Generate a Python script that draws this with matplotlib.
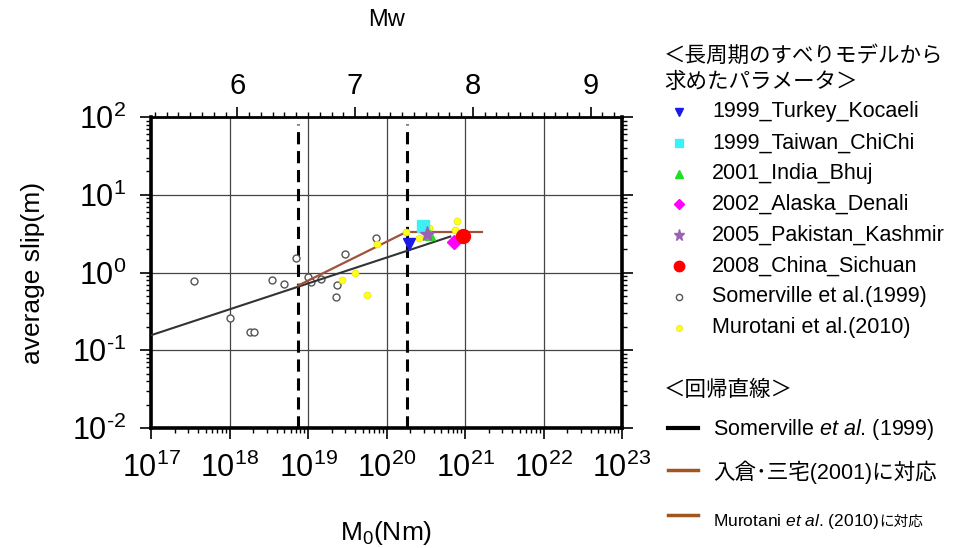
import numpy as np
import matplotlib
matplotlib.use("Agg")
import matplotlib.pyplot as plt
from matplotlib.ticker import FixedLocator, MultipleLocator, LogLocator, NullFormatter

plt.rcParams['font.family'] = ['Liberation Sans', 'Noto Sans CJK JP', 'DejaVu Sans']
plt.rcParams['mathtext.fontset'] = 'custom'
plt.rcParams['mathtext.rm'] = 'Liberation Sans'
plt.rcParams['mathtext.it'] = 'Liberation Sans:italic'
plt.rcParams['axes.unicode_minus'] = False

# ---- data ----
event_names = ['1999_Turkey_Kocaeli', '1999_Taiwan_ChiChi', '2001_India_Bhuj',
               '2002_Alaska_Denali', '2005_Pakistan_Kashmir', '2008_China_Sichuan']
event_m0 = [1.93e20, 2.88e20, 3.57e20, 7.2e20, 3.24e20, 9.3e20]
event_slip = [2.32, 3.92, 3.03, 2.49, 3.12, 2.97]

somerville_m0 = [3.5e17, 1.0e18, 1.8e18, 2.08e18, 3.47e18, 4.94e18, 6.97e18,
                 9.9e18, 1.1e19, 1.48e19, 2.37e19, 2.29e19, 2.97e19, 7.3e19]
somerville_slip = [0.78, 0.26, 0.17, 0.17, 0.79, 0.71, 1.52,
                   0.88, 0.76, 0.82, 0.69, 0.48, 1.71, 2.77]

murotani_m0 = [2.7e19, 4.0e19, 5.7e19, 7.6e19, 1.75e20, 2.57e20, 3.47e20, 7.9e20, 7.4e20]
murotani_slip = [0.81, 1.0, 0.51, 2.34, 3.35, 2.77, 3.7, 4.55, 3.55]

# regression lines (end points)
som_fit_m0 = [1e17, 6.5e20]
som_fit_slip = [0.156, 2.9]
im_fit_m0 = [7.5e18, 1.8e20]
im_fit_slip = [0.68, 3.33]
mu_fit_m0 = [1.8e20, 1.66e21]
mu_fit_slip = [3.33, 3.33]

# Irikura-Miyake / Murotani boundaries
boundary_m0 = [7.5e18, 1.8e20]

x_exps = [17, 18, 19, 20, 21, 22, 23]
y_exps = [-2, -1, 0, 1, 2]
mw_ticks = [6, 7, 8, 9]

# ---- styles ----
event_styles = [
    dict(marker='v', color='#1a1ae6', ms=8),
    dict(marker='s', color='#3ef0f5', ms=8),
    dict(marker='^', color='#22dd22', ms=7),
    dict(marker='D', color='#ff00ff', ms=7),
    dict(marker='*', color='#9a62b0', ms=11),
    dict(marker='o', color='#ff0000', ms=10),
]
brown = '#a0523a'


def pow_label(e):
    if e < 0:
        return r'$\mathregular{10^{\text{-}%d}}$' % (-e)
    return r'$\mathregular{10^{%d}}$' % e


fig = plt.figure(figsize=(9.66, 5.48), dpi=100)
W, H = 966, 548
ax = fig.add_axes([151 / W, 1 - 428 / H, (622 - 151) / W, (428 - 117) / H])

ax.set_xscale('log')
ax.set_yscale('log')
ax.set_xlim(10.0 ** x_exps[0], 10.0 ** x_exps[-1])
ax.set_ylim(10.0 ** y_exps[0], 10.0 ** y_exps[-1])

ax.grid(which='major', color='#444444', lw=0.9)

for b in boundary_m0:
    ax.axvline(b, ymin=0, ymax=0.978, color='black', lw=2.2, dashes=(4, 2.2), zorder=3)

ax.plot(somerville_m0, somerville_slip, 'o', ms=5, mfc='white', mec='#555555', mew=1, zorder=4)
ax.plot(som_fit_m0, som_fit_slip, color='#333333', lw=1.5, zorder=5)
ax.plot(im_fit_m0, im_fit_slip, color=brown, lw=1.6, zorder=5)
ax.plot(mu_fit_m0, mu_fit_slip, color=brown, lw=1.6, zorder=5)
ax.plot(murotani_m0, murotani_slip, 'o', ms=5, mfc='#ffff22', mec='#e6e600', mew=0.5, zorder=6)
for m0, s, st in zip(event_m0, event_slip, event_styles):
    ax.plot([m0], [s], linestyle='none', marker=st['marker'], ms=st['ms'],
            color=st['color'], mec=st['color'], zorder=7)

ax.set_xticks([10.0 ** e for e in x_exps])
ax.set_xticklabels([pow_label(e) for e in x_exps])
ax.set_yticks([10.0 ** e for e in y_exps])
ax.set_yticklabels([pow_label(e) for e in y_exps])
ax.xaxis.set_minor_locator(LogLocator(base=10, subs=range(2, 10), numticks=20))
ax.yaxis.set_minor_locator(LogLocator(base=10, subs=range(2, 10), numticks=20))
ax.xaxis.set_minor_formatter(NullFormatter())
ax.yaxis.set_minor_formatter(NullFormatter())
ax.tick_params(axis='both', which='major', labelsize=22, length=8, width=1.2, direction='out')
ax.tick_params(axis='x', which='major', pad=10)
ax.tick_params(axis='y', which='major', pad=10)
ax.tick_params(axis='both', which='minor', length=3.5, width=1, direction='out')
ax.tick_params(axis='y', which='both', right=True)
ax.tick_params(axis='x', which='both', top=False)
for side in ['left', 'bottom', 'right']:
    ax.spines[side].set_linewidth(2.6)
ax.spines['top'].set_linewidth(2)

ax.set_xlabel(r'$\mathregular{M_0}$(Nm)', fontsize=19, va='center')
ax.xaxis.set_label_coords(0.5, (428 - 533) / 311)
ax.set_ylabel('average slip(m)', fontsize=19, va='center')
ax.yaxis.set_label_coords((33 - 151) / 471, 0.5)

# top axis: moment magnitude  Mw = (log10 M0 - 9.1) / 1.5
ax2 = ax.twiny()
ax2.set_xlim((x_exps[0] - 9.1) / 1.5, (x_exps[-1] - 9.1) / 1.5)
ax2.xaxis.set_major_locator(FixedLocator(mw_ticks))
ax2.xaxis.set_minor_locator(MultipleLocator(0.1))
ax2.tick_params(axis='x', which='major', labelsize=21, length=7, width=1.2, direction='out', pad=5)
ax2.tick_params(axis='x', which='minor', length=3.5, width=1, direction='out')
for s in ax2.spines.values():
    s.set_visible(False)
ax2.set_xlabel('Mw', fontsize=17, va='center')
ax2.xaxis.set_label_coords(0.5, (428 - 20) / 311)

# ---- legend panel ----
lax = fig.add_axes([0, 0, 1, 1])
lax.set_xlim(0, W)
lax.set_ylim(H, 0)
lax.axis('off')

fs = 15.5
lax.text(664, 56, '＜長周期のすべりモデルから', fontsize=fs, va='center')
lax.text(664, 82, '求めたパラメータ＞', fontsize=fs, va='center')

leg_labels = event_names + ['Somerville et al.(1999)', 'Murotani et al.(2010)']
for i, lab in enumerate(leg_labels):
    y = 112 + i * 30.8
    if i < len(event_styles):
        st = event_styles[i]
        lax.plot([679], [y], linestyle='none', marker=st['marker'], ms=st['ms'] * 0.75,
                 color=st['color'], mec=st['color'])
    elif lab.startswith('Somerville'):
        lax.plot([679], [y], 'o', ms=4.5, mfc='white', mec='#555555', mew=1)
    else:
        lax.plot([679], [y], 'o', ms=4.5, mfc='#ffff22', mec='#e6e600', mew=0.5)
    lax.text(712, y, lab, fontsize=fs, va='center')

lax.text(664, 390, '＜回帰直線＞', fontsize=fs, va='center')
lax.plot([668, 698], [428, 428], color='black', lw=3)
lax.text(713, 430, r'Somerville $\mathit{et\ al}$. (1999)', fontsize=fs, va='center')
lax.plot([668, 698], [470, 470], color='#a0561e', lw=2.5)
lax.text(713, 472, '入倉･三宅(2001)に対応', fontsize=fs, va='center')
lax.plot([668, 698], [515, 515], color='#a0561e', lw=2.5)
t3 = lax.text(713, 526, r'Murotani $\mathit{et\ al}$. (2010)', fontsize=12.5, va='baseline')
fig.canvas.draw()
x_end = lax.transData.inverted().transform(
    (t3.get_window_extent(fig.canvas.get_renderer()).x1, 0))[0]
lax.text(x_end, 526, 'に対応', fontsize=10.5, va='baseline')

fig.savefig('out.png', dpi=100)
